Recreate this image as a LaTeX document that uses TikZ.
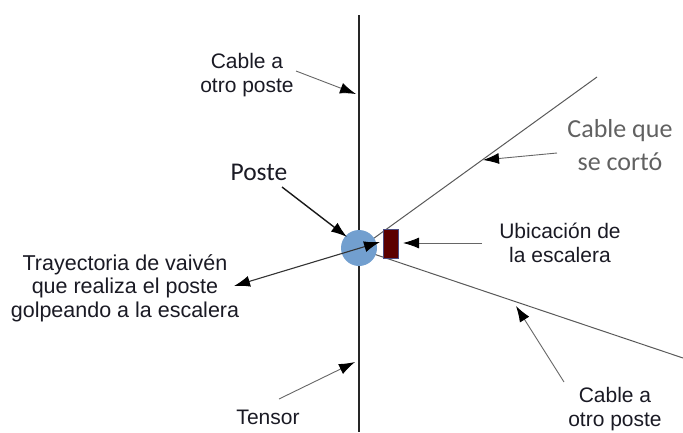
\documentclass[tikz,border=0pt]{standalone}
\usepackage{fontspec}
\setmainfont{Liberation Sans}
\newfontfamily\carl{Carlito}
\usetikzlibrary{arrows.meta}
\definecolor{posteblue}{HTML}{729FCF}
\definecolor{ladder}{HTML}{5C0000}
\definecolor{ladderedge}{HTML}{4B4B80}
\definecolor{ink}{HTML}{1A1A24}
\tikzset{
  lbl/.style={font=\fontsize{21}{24.5}\selectfont, align=center, text=ink, inner sep=0pt},
  tip/.tip={Latex[length=16pt,width=11pt,color=black]},
  ptr/.style={draw=black!60, line width=0.9pt, -tip},
  bold ptr/.style={draw=black!90, line width=1.4pt, -tip},
  cable/.style={draw=black!65, line width=1pt},
}
\begin{document}
\begin{tikzpicture}[x=1pt,y=-1pt]
\useasboundingbox (0,0) rectangle (683,432);
% main lines
\coordinate (vt) at (359,15);
\coordinate (vb) at (359,432);
\coordinate (c0) at (359,249);
\coordinate (cu) at (597,77);
\coordinate (cd) at (683,358);
\draw[draw=black!85, line width=1.1pt] (vt) -- (vb);
\draw[cable] (c0) -- (cu);
\draw[cable] (c0) -- (cd);
% poste and ladder
\node[circle, minimum size=36pt, inner sep=0pt, fill=posteblue] (poste) at (359,248) {};
\node[rectangle, minimum width=15pt, minimum height=29pt, inner sep=0pt, fill=ladder, draw=ladderedge, line width=0.6pt] (esc) at (390.5,243.5) {};
% labels
\node[lbl] (cabtop) at (247,75) {Cable a\\otro poste};
\node[lbl, font=\carl\fontsize{25.5}{28}\selectfont] (postelbl) at (259,172) {Poste};
\node[lbl, font=\fontsize{21.5}{23.5}\selectfont] (tray) at (125,288) {Trayectoria de vaivén\\que realiza el poste\\golpeando a la escalera};
\node[lbl] (ubic) at (560,243) {Ubicación de\\la escalera};
\node[lbl, font=\carl\fontsize{26}{33}\selectfont, text=black!62] (corto) at (620,145) {Cable que\\se cortó};
\node[lbl] (tensor) at (268,417) {Tensor};
\node[lbl] (cabbot) at (615,409) {Cable a\\otro poste};
% arrow ends
\coordinate (a1s) at (296,71);  \coordinate (a1e) at (356,94);
\coordinate (a2s) at (282,187); \coordinate (a2e) at (347,237);
\coordinate (a3s) at (380,242); \coordinate (a3e) at (234,286);
\coordinate (a4s) at (482,243); \coordinate (a4e) at (403,243);
\coordinate (a5s) at (557,153); \coordinate (a5e) at (483,160);
\coordinate (a6s) at (279,399); \coordinate (a6e) at (355,362);
\coordinate (a7s) at (564,382); \coordinate (a7e) at (516,306);
\draw[ptr] (a1s) -- (a1e);
\draw[bold ptr] (a2s) -- (a2e);
\draw[tip-tip, draw=black!80, line width=1.1pt] (a3s) -- (a3e);
\draw[ptr] (a4s) -- (a4e);
\draw[ptr] (a5s) -- (a5e);
\draw[ptr] (a6s) -- (a6e);
\draw[ptr] (a7s) -- (a7e);
\end{tikzpicture}
\end{document}
